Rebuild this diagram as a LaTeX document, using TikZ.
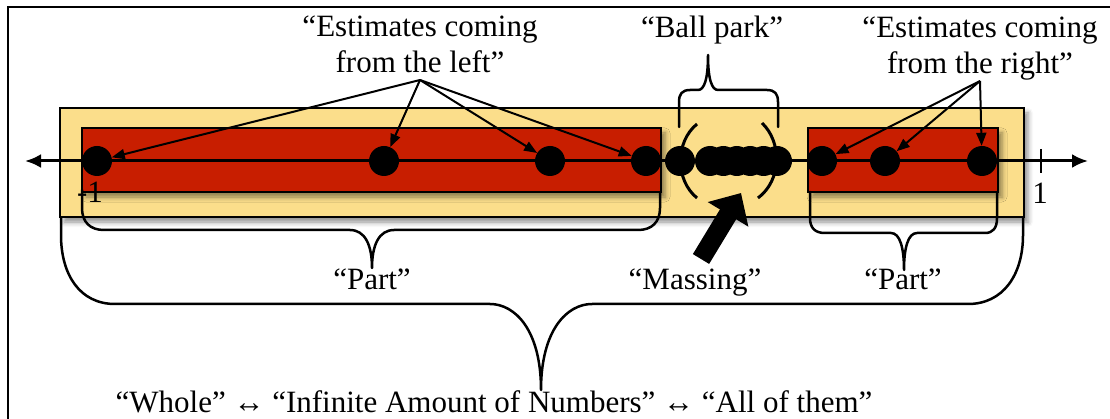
\documentclass[tikz,border=0pt]{standalone}
\usepackage{fontspec}
\setmainfont{Liberation Serif}
\usetikzlibrary{arrows.meta,shadows.blur}
\definecolor{redbox}{RGB}{200,30,0}
\definecolor{yellowbox}{RGB}{251,222,139}
\begin{document}
\begin{tikzpicture}[x=1pt,y=-1pt,
  box/.style={draw=black,line width=2pt,inner sep=0pt,anchor=north west,
    blur shadow={shadow xshift=4pt,shadow yshift=-5pt,shadow blur radius=5pt,shadow opacity=45}},
  dot/.style={circle,fill=black,minimum size=30pt,inner sep=0pt},
  lbl/.style={font=\fontsize{31}{36}\selectfont,inner sep=0pt,anchor=base},
  est/.style={line width=2pt,-{Triangle[length=13pt,width=10pt]}},
  brace/.style={line width=2.5pt,line cap=round,line join=round},
  paren/.style={line width=3pt},
  axis/.style={line width=3pt,{Latex[length=16pt,width=14pt]}-{Latex[length=16pt,width=14pt]}}]

\useasboundingbox (0,0) rectangle (1110,419);
% frame
\draw[line width=2pt] (8,419) -- (8,7) -- (1112,7);

% boxes
\node[box,fill=yellowbox,minimum width=964pt,minimum height=109pt] (whole) at (59,107) {};
\node[box,fill=redbox,minimum width=579pt,minimum height=64pt] (partL) at (81,127) {};
\node[box,fill=redbox,minimum width=190pt,minimum height=64pt] (partR) at (807,127) {};

% number line
\coordinate (axL) at (25,161);
\coordinate (axR) at (1088,161);
\draw[axis] (axL) -- (axR);
\coordinate (tickT) at (1041,149);
\coordinate (tickB) at (1041,173);
\draw[line width=2pt] (tickT) -- (tickB);

% dots
\node[dot] (d1) at (97,161) {};
\node[dot] (d2) at (384,161) {};
\node[dot] (d3) at (550,161) {};
\node[dot] (d4) at (646,161) {};
\node[dot] (d5) at (680,161) {};
\foreach \i/\x in {1/710,2/723.4,3/736.8,4/750.2,5/763.6,6/777}
  \node[dot] (c\i) at (\x,161) {};
\node[dot] (r1) at (822,161) {};
\node[dot] (r2) at (885,161) {};
\node[dot] (r3) at (982,161) {};

% labels on axis
\node[lbl] (one) at (1040,204) {1};
\node[lbl] (mone) at (90,203) {-1};

% parentheses around ball park
\draw[paren] (697,124) .. controls (675,142) and (675,180) .. (697,198);
\draw[paren] (762,123) .. controls (782,142) and (782,180) .. (758,198);

% ball park brace
\draw[brace] (679,127) -- (679,102) .. controls (679,94) and (682,90) .. (690,90) -- (698,90)
  .. controls (704,90) and (708,80) .. (708,55)
  .. controls (708,80) and (712,90) .. (718,90) -- (767,90)
  .. controls (775,90) and (778,94) .. (778,102) -- (778,127);

% left part brace
\draw[brace] (82,190) -- (82,208) .. controls (82,222) and (90,230) .. (104,230) -- (350,230)
  .. controls (365,230) and (372,245) .. (372,268)
  .. controls (372,245) and (379,230) .. (394,230) -- (638,230)
  .. controls (652,230) and (660,222) .. (660,208) -- (660,192);

% right part brace
\draw[brace] (810,192) -- (810,218) .. controls (810,228) and (815,233) .. (825,233) -- (891,233)
  .. controls (900,233) and (904,248) .. (904,270)
  .. controls (904,248) and (908,233) .. (917,233) -- (985,233)
  .. controls (993,233) and (997,228) .. (997,218) -- (997,192);

% whole brace
\draw[brace] (61,218) -- (61,235) .. controls (61,275) and (80,304) .. (115,304) -- (490,304)
  .. controls (515,304) and (541,330) .. (541,390)
  .. controls (541,330) and (567,304) .. (592,304) -- (968,304)
  .. controls (1003,304) and (1023,275) .. (1023,235) -- (1023,218);

% texts
\node[lbl] (estL) at (420,37) {\begin{tabular}[t]{@{}c@{}}“Estimates coming\\from the left”\end{tabular}};
\node[lbl] (estR) at (980,38) {\begin{tabular}[t]{@{}c@{}}“Estimates coming\\from the right”\end{tabular}};
\node[lbl] (bp) at (712,38) {“Ball park”};
\node[lbl] (pL) at (372,290) {“Part”};
\node[lbl] (mass) at (695,290) {“Massing”};
\node[lbl] (pR) at (903,290) {“Part”};
\node[lbl] (wholetxt) at (494,412) {“Whole” ↔ “Infinite Amount of Numbers” ↔ “All of them”};

% estimate arrows
\coordinate (srcL) at (420,80);
\coordinate (srcR) at (980,81);
\foreach \t in {d1,d2,d3,d4} \draw[est] (srcL) -- (\t);
\foreach \t in {r1,r2,r3} \draw[est] (srcR) -- (\t);

% massing arrow
\coordinate (mS) at (701,259);
\coordinate (mT) at (741,193);
\draw[line width=19pt,-{Triangle[length=25pt,width=46pt]}] (mS) -- (mT);
\end{tikzpicture}
\end{document}
